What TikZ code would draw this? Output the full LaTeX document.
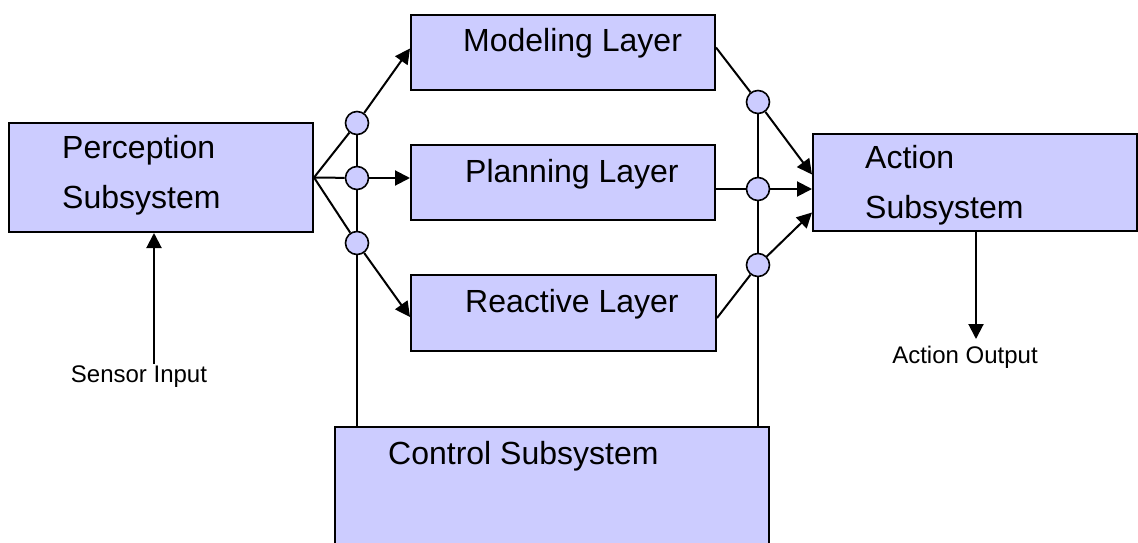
\documentclass[tikz,border=0pt]{standalone}
\usepackage{fontspec}
\setmainfont{Liberation Sans}
\usetikzlibrary{arrows.meta,calc}
\definecolor{boxfill}{HTML}{CCCCFF}
\tikzset{
  box/.style={draw=black, fill=boxfill, line width=2pt, rectangle, inner sep=0pt},
  junc/.style={draw=black, fill=boxfill, line width=1.6pt, circle, minimum size=23pt, inner sep=0pt},
  big/.style={font=\fontsize{32}{38}\selectfont, inner sep=0pt, anchor=base west},
  small/.style={font=\fontsize{24}{28}\selectfont, inner sep=0pt, anchor=base},
  wire/.style={line width=2pt},
  arr/.style={line width=2pt, -{Triangle[length=15pt,width=15pt]}}
}
\begin{document}
\begin{tikzpicture}[x=1pt,y=-1pt]
\useasboundingbox (0,0) rectangle (1138,543);
% boxes
\node[box, minimum width=304pt, minimum height=109pt] (perc) at (161,177.5) {};
\node[box, minimum width=304pt, minimum height=75pt] (model) at (563,52.5) {};
\node[box, minimum width=304pt, minimum height=75pt] (plan) at (563,182.5) {};
\node[box, minimum width=305pt, minimum height=76pt] (react) at (563.5,313) {};
\node[box, minimum width=324pt, minimum height=97pt] (action) at (975,182.5) {};
\node[box, minimum width=434pt, minimum height=140pt] (control) at (552,497) {};
% texts
\node[big] (tperc1) at (62,158) {Perception};
\node[big] (tperc2) at (62,208) {Subsystem};
\node[big] (tmodel) at (463,52) {Modeling Layer};
\node[big] (tplan) at (465,182) {Planning Layer};
\node[big] (treact) at (465,312) {Reactive Layer};
\node[big] (tact1) at (865,168) {Action};
\node[big] (tact2) at (865,218) {Subsystem};
\node[big] (tctrl) at (388,464) {Control Subsystem};
\node[small] (tsensor) at (139,382) {Sensor Input};
\node[small] (tout) at (965,363) {Action Output};
% junctions
\node[junc] (L1) at (357,123) {};
\node[junc] (L2) at (357,178) {};
\node[junc] (L3) at (357,243) {};
\node[junc] (R1) at (758,102) {};
\node[junc] (R2) at (758,189) {};
\node[junc] (R3) at (758,265) {};
\coordinate (sin) at (154,364);
\coordinate (aout) at (976,339);
% left side connectors
\draw[wire] (perc.east) -- (L1);
\draw[wire] (perc.east) -- (L2);
\draw[wire] (perc.east) -- (L3);
\draw[arr] (L1) -- ($(model.west)+(0,-4)$);
\draw[arr] (L2) -- (L2 -| plan.west);
\draw[arr] (L3) -- ($(react.west)+(0,4)$);
\draw[wire] (L1) -- (L2);
\draw[wire] (L2) -- (L3);
\draw[wire] (L3) -- (L3 |- control.north);
% right side connectors
\draw[wire] ($(model.east)+(0,-5)$) -- (R1);
\draw[wire] (R2 -| plan.east) -- (R2);
\draw[wire] ($(react.east)+(0,5)$) -- (R3);
\draw[arr] (R1) -- ($(action.west)+(0,-8)$);
\draw[arr] (R2) -- (R2 -| action.west);
\draw[arr] (R3) -- ($(action.west)+(0,30)$);
\draw[wire] (R1) -- (R2);
\draw[wire] (R2) -- (R3);
\draw[wire] (R3) -- (R3 |- control.north);
% input / output
\draw[arr] (sin) -- (sin |- perc.south);
\draw[arr] (aout |- action.south) -- (aout);
\end{tikzpicture}
\end{document}
